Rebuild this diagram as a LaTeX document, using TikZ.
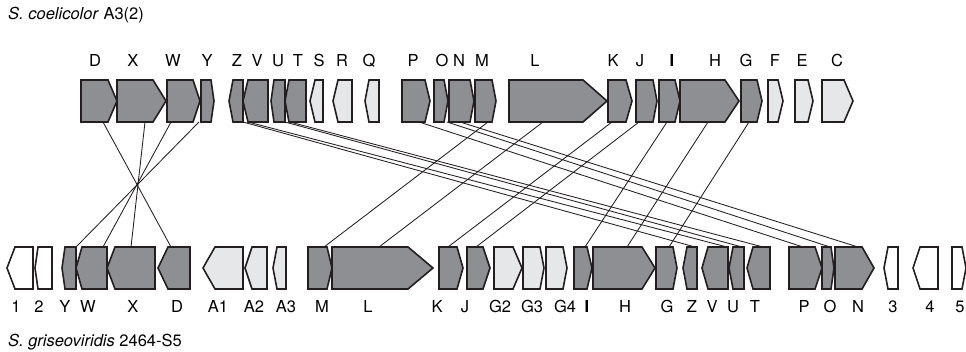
\documentclass[tikz,border=0pt]{standalone}
\usepackage{fontspec}
\setmainfont{TeX Gyre Heros}
\definecolor{geneDark}{HTML}{8E8F93}
\definecolor{geneLight}{HTML}{E6E7E9}
\definecolor{ink}{HTML}{231F20}
\tikzset{
  dk/.style={draw=ink, fill=geneDark, line width=1.6pt, line join=miter},
  lt/.style={draw=ink, fill=geneLight, line width=1.6pt, line join=miter},
  wt/.style={draw=ink, fill=white, line width=1.6pt, line join=miter},
  link/.style={draw=ink, line width=0.85pt},
  lab/.style={anchor=base, inner sep=0pt, font=\fontsize{16.5}{18}\selectfont},
  ttl/.style={anchor=base west, inner sep=0pt, font=\fontsize{16.5}{18}\selectfont}
}
% right-pointing gene: start, tip, shoulder, top y, style
\newcommand\rgene[5]{\draw[#5] (#1,#4) -- (#3,#4) -- (#2,#4+21) -- (#3,#4+42) -- (#1,#4+42) -- cycle;}
% left-pointing gene: tip, end, shoulder, top y, style
\newcommand\lgene[5]{\draw[#5] (#2,#4) -- (#3,#4) -- (#1,#4+21) -- (#3,#4+42) -- (#2,#4+42) -- cycle;}
\begin{document}
\begin{tikzpicture}[x=1pt,y=-1pt]
\useasboundingbox (0,0) rectangle (966,352);
\fill[white] (0,0) rectangle (966,352);

% titles
\node[ttl] (t1) at (8,20) {\itshape S. coelicolor\/\upshape{} A3(2)};
\node[ttl] (t2) at (8,346) {\itshape S. griseoviridis\/\upshape{} 2464-S5};

% link coordinates (top)
\foreach \n/\x in {D/103,X/145,W/171,Y/199,Z/243,V/248,U/285,T/290,P/419,O/447,N/460,M/488,L/543,K/612,J/639,I/667,H/708,G/749}
  \coordinate (t\n) at (\x,122);
% link coordinates (bottom)
\foreach \n/\x in {D/171,X/131,W/103,Y/76,Z/695,V/727,U/742,T/763,P/803,O/830,N/858,M/324,L/379,K/448,J/476,I/585,H/627,G/669}
  \coordinate (b\n) at (\x,247);
\foreach \n in {D,X,W,Y,Z,V,U,T,P,O,N,M,L,K,J,I,H,G}
  \draw[link] (t\n) -- (b\n);

% top row genes
\rgene{81}{117}{108}{80}{dk}
\rgene{117}{166}{153}{80}{dk}
\rgene{167}{200}{193}{80}{dk}
\rgene{201}{214}{211}{80}{dk}
\lgene{229}{243}{233}{80}{dk}
\lgene{243}{268}{248}{80}{dk}
\lgene{271}{285}{274}{80}{dk}
\lgene{285}{306}{289}{80}{dk}
\lgene{310}{323}{315}{80}{lt}
\lgene{333}{352}{338}{80}{lt}
\lgene{365}{379}{369}{80}{lt}
\rgene{402}{430}{425}{80}{dk}
\rgene{434}{448}{444}{80}{dk}
\rgene{449}{474}{470}{80}{dk}
\rgene{475}{496}{492}{80}{dk}
\rgene{509}{607}{583}{80}{dk}
\rgene{608}{632}{626}{80}{dk}
\rgene{636}{657}{653}{80}{dk}
\rgene{659}{680}{675}{80}{dk}
\rgene{680}{739}{725}{80}{dk}
\rgene{741}{762}{757}{80}{dk}
\rgene{768}{783}{778}{80}{lt}
\rgene{795}{813}{808}{80}{lt}
\rgene{822}{853}{844}{80}{lt}

% bottom row genes
\lgene{7}{33}{15}{247}{wt}
\lgene{35}{52}{38}{247}{wt}
\lgene{62}{76}{65}{247}{dk}
\lgene{76}{107}{82}{247}{dk}
\lgene{107}{155}{115}{247}{dk}
\lgene{158}{190}{168}{247}{dk}
\lgene{203}{243}{215}{247}{lt}
\lgene{245}{267}{252}{247}{lt}
\lgene{273}{286}{277}{247}{lt}
\rgene{308}{332}{327}{247}{dk}
\rgene{332}{433}{408}{247}{dk}
\rgene{439}{463}{457}{247}{dk}
\rgene{467}{490}{483}{247}{dk}
\rgene{494}{522}{513}{247}{lt}
\rgene{523}{544}{540}{247}{lt}
\rgene{546}{567}{563}{247}{lt}
\rgene{574}{592}{587}{247}{dk}
\rgene{593}{655}{642}{247}{dk}
\rgene{656}{677}{673}{247}{dk}
\lgene{683}{697}{687}{247}{dk}
\lgene{702}{728}{708}{247}{dk}
\lgene{729}{744}{733}{247}{dk}
\lgene{747}{770}{753}{247}{dk}
\rgene{789}{822}{815}{247}{dk}
\rgene{822}{834}{831}{247}{dk}
\rgene{835}{874}{862}{247}{dk}
\lgene{884}{898}{888}{247}{wt}
\lgene{913}{938}{920}{247}{wt}
\rgene{952}{966}{962}{247}{wt}

% top labels
\foreach \t/\x in {D/95,X/133,W/173,Y/207,Z/237,V/257,U/278,T/298,S/319,R/342,Q/369,P/413,O/442,N/459,M/482,L/535,K/613,J/640,H/715,G/746,F/775,E/802,C/837}
  \node[lab] (lt\t) at (\x,67) {\t};
\node[lab] (ltI) at (672,67) {\bfseries I};
% bottom labels
\foreach \t/\x in {1/16,2/39,Y/65,W/88,X/133,D/177,A1/218,A2/254,A3/286,M/322,L/368,K/437,J/465,G2/500,G3/532,G4/565,H/625,G/667,Z/692,V/712,U/733,T/755,P/804,O/830,N/858,3/893,4/930,5/960}
  \node[lab] (lb\t) at (\x,313) {\t};
\node[lab] (lbI) at (587,313) {\bfseries I};
\end{tikzpicture}
\end{document}
